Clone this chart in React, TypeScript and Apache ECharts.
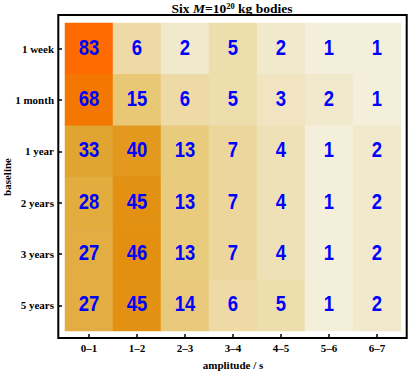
import React, { useEffect, useRef } from "react";
import * as echarts from "echarts";

const amplitudes = ["0–1", "1–2", "2–3", "3–4", "4–5", "5–6", "6–7"];
const baselines = ["1 week", "1 month", "1 year", "2 years", "3 years", "5 years"];

const row1Week = [83, 6, 2, 5, 2, 1, 1];
const row1Month = [68, 15, 6, 5, 3, 2, 1];
const row1Year = [33, 40, 13, 7, 4, 1, 2];
const row2Years = [28, 45, 13, 7, 4, 1, 2];
const row3Years = [27, 46, 13, 7, 4, 1, 2];
const row5Years = [27, 45, 14, 6, 5, 1, 2];

const rows = [row1Week, row1Month, row1Year, row2Years, row3Years, row5Years];

const palette = [
  "#f3efda", "#f2ebd1", "#f1e7c6", "#efe2ba", "#eddaa5", "#ebd18e",
  "#e8c97a", "#e5b756", "#e0a22c", "#e58702", "#ff6a00",
];

const serif = "'Liberation Serif', 'DejaVu Serif', serif";

export default function App() {
  const ref = useRef<HTMLDivElement>(null);
  useEffect(() => {
    if (!ref.current) return;
    const chart = echarts.init(ref.current, undefined, { renderer: "svg" });
    const data: number[][] = [];
    rows.forEach((r, yi) =>
      r.forEach((v, xi) => data.push([xi, yi, v, Math.log(v)]))
    );
    const maxLog = Math.log(Math.max(...rows.flat()));
    chart.setOption({
      animation: false,
      backgroundColor: "#ffffff",
      grid: { left: 65, right: 8, top: 23, bottom: 40, outerBoundsMode: "none", containLabel: false },
      graphic: [
        {
          type: "rect",
          shape: { x: 58.3, y: 15, width: 348.4, height: 323 },
          style: { fill: "none", stroke: "#000", lineWidth: 2 },
          z: 10,
        },
        {
          type: "text",
          x: 232,
          y: 1,
          style: {
            text: "{a|Six }{i|M}{a|=10}{s|20}{a| kg bodies}",
            align: "center",
            verticalAlign: "top",
            rich: {
              a: { fontFamily: serif, fontWeight: "bold", fontSize: 13.5, fill: "#000", verticalAlign: "bottom", lineHeight: 14 },
              i: { fontFamily: serif, fontWeight: "bold", fontStyle: "italic", fontSize: 13.5, fill: "#000", verticalAlign: "bottom", lineHeight: 14 },
              s: { fontFamily: serif, fontWeight: "bold", fontSize: 8.5, fill: "#000", verticalAlign: "top", lineHeight: 14 },
            },
          },
        },
      ],
      xAxis: {
        type: "category",
        data: amplitudes,
        offset: 7,
        axisLine: { show: false },
        axisTick: { show: true, inside: true, length: 4, alignWithLabel: true, interval: 0, lineStyle: { color: "#000", width: 1.5 } },
        axisLabel: { margin: 4, fontFamily: serif, fontWeight: "bold", fontSize: 11, color: "#000", interval: 0 },
        splitLine: { show: false },
        name: "amplitude / s",
        nameLocation: "middle",
        nameGap: 21,
        nameMoveOverlap: false,
        nameTextStyle: { fontFamily: serif, fontWeight: "bold", fontSize: 11, color: "#000" },
      },
      yAxis: {
        type: "category",
        data: baselines,
        inverse: true,
        offset: 7,
        axisLine: { show: false },
        axisTick: { show: true, inside: true, length: 4, alignWithLabel: true, interval: 0, lineStyle: { color: "#000", width: 1.5 } },
        axisLabel: { margin: 4, fontFamily: serif, fontWeight: "bold", fontSize: 11, color: "#000", interval: 0 },
        splitLine: { show: false },
        name: "baseline",
        nameLocation: "middle",
        nameGap: 46,
        nameMoveOverlap: false,
        nameTextStyle: { fontFamily: serif, fontWeight: "bold", fontSize: 11, color: "#000" },
      },
      visualMap: {
        show: false,
        type: "continuous",
        dimension: 3,
        seriesIndex: 0,
        min: 0,
        max: maxLog,
        inRange: { color: palette },
      },
      series: [
        {
          type: "heatmap",
          data,
          itemStyle: { borderWidth: 0 },
          label: { show: false },
        },
        {
          type: "custom",
          data,
          z: 5,
          renderItem: (params: any, api: any) => {
            const pt = api.coord([api.value(0), api.value(1)]);
            return {
              type: "text",
              x: pt[0],
              y: pt[1] - 1.5,
              scaleX: 0.84,
              style: {
                text: String(api.value(2)),
                fill: "#0000ff",
                fontSize: 22,
                fontWeight: "bold",
                fontFamily: "'Liberation Sans', Arial, sans-serif",
                align: "center",
                verticalAlign: "middle",
              },
            };
          },
        },
      ],
    });
    return () => chart.dispose();
  }, []);
  return <div ref={ref} style={{ width: 409, height: 371, position: "absolute", left: 0, top: 0 }} />;
}
